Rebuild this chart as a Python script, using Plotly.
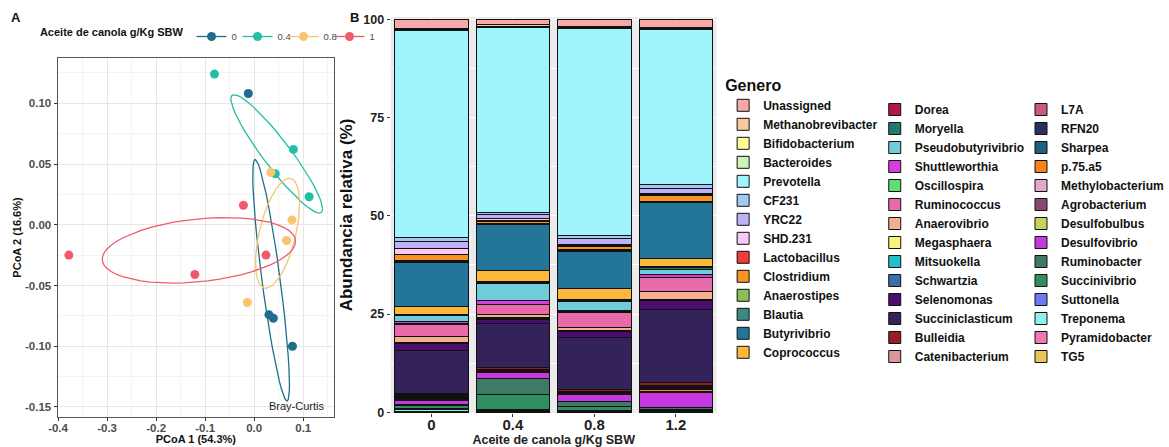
import numpy as np
import plotly.graph_objects as go

# ---------------- Panel A: PCoA (Bray-Curtis) ----------------
dose_levels = ["0", "0.4", "0.8", "1"]
dose_colors = ["#1f6e8c", "#22bfa4", "#f9c46e", "#ef5b6b"]

pc1_d0 = [-0.012, 0.030, 0.039, 0.078]
pc2_d0 = [0.108, -0.074, -0.077, -0.100]
pc1_d04 = [-0.081, 0.080, 0.043, 0.112]
pc2_d04 = [0.124, 0.062, 0.042, 0.023]
pc1_d08 = [0.034, 0.077, 0.066, -0.014]
pc2_d08 = [0.043, 0.004, -0.013, -0.064]
pc1_d1 = [-0.022, -0.378, 0.024, -0.121]
pc2_d1 = [0.016, -0.025, -0.025, -0.041]

pcoa_groups = [
    (pc1_d0, pc2_d0),
    (pc1_d04, pc2_d04),
    (pc1_d08, pc2_d08),
    (pc1_d1, pc2_d1),
]
ellipse_level = 0.5

# ---------------- Panel B: relative abundance by genus ----------------
dose_cats = ["0", "0.4", "0.8", "1.2"]

genera = [
    "Unassigned", "Methanobrevibacter", "Bifidobacterium", "Bacteroides",
    "Prevotella", "CF231", "YRC22", "SHD.231", "Lactobacillus", "Clostridium",
    "Anaerostipes", "Blautia", "Butyrivibrio", "Coprococcus",
    "Dorea", "Moryella", "Pseudobutyrivibrio", "Shuttleworthia", "Oscillospira",
    "Ruminococcus", "Anaerovibrio", "Megasphaera", "Mitsuokella", "Schwartzia",
    "Selenomonas", "Succiniclasticum", "Bulleidia", "Catenibacterium",
    "L7A", "RFN20", "Sharpea", "p.75.a5", "Methylobacterium", "Agrobacterium",
    "Desulfobulbus", "Desulfovibrio", "Ruminobacter", "Succinivibrio",
    "Suttonella", "Treponema", "Pyramidobacter", "TG5",
]

genus_colors = [
    "#f7a8a8", "#f9cb9c", "#ffff99", "#ccf5b5", "#9ff5fb", "#a3c8f5", "#c0b0f5",
    "#f8c9f8", "#f03c3c", "#f7931e", "#8cbf5a", "#3d8a80", "#23769a", "#fbb83a",
    "#b0174f", "#207a70", "#6fccd8", "#d43ee0", "#5bdf6e", "#e96aa8", "#f2b090",
    "#f5f57a", "#20bfca", "#3a6fa8", "#4a0f6e", "#33235a", "#9a1a25", "#d9979c",
    "#c85a80", "#2a2f5e", "#1f5f80", "#f5821f", "#e5a8c8", "#8a4a70", "#c5d35a",
    "#c43ae0", "#3f7a68", "#2f8f62", "#6f78f0", "#8ff0ee", "#ef7ab0", "#e8c45a",
]

# relative abundance (%) per genus, in the order of `genera`
abund_0 = [
    2.4, 0.2, 0.1, 0.1, 52.8, 0.9, 1.9, 1.4, 0.1, 1.4,
    0.2, 0.3, 11.2, 2.1, 0.15, 0.2, 1.3, 0.5, 0.3,
    3.2, 1.4, 0.1, 0.1, 0.1, 1.7, 11.0, 0.4, 0.2,
    0.2, 0.2, 0.2, 0.2, 0.1, 0.1, 0.1, 1.1, 0.3, 0.8,
    0.1, 0.6, 0.1, 0.1,
]
abund_04 = [
    1.4, 0.3, 0.1, 0.2, 47.1, 0.6, 1.1, 0.3, 0.3, 0.5,
    0.2, 0.2, 11.7, 2.8, 0.2, 0.2, 4.3, 1.0, 0.1,
    2.5, 0.9, 0.1, 0.1, 0.1, 1.1, 11.3, 0.3, 0.1,
    0.1, 0.1, 0.1, 0.2, 0.1, 0.05, 0.05, 1.7, 3.9, 4.0,
    0.1, 0.3, 0.1, 0.1,
]
abund_08 = [
    1.7, 0.2, 0.1, 0.2, 52.7, 0.8, 1.6, 0.2, 0.4, 0.8,
    0.2, 0.2, 9.3, 3.0, 0.15, 0.15, 2.4, 0.3, 0.1,
    3.9, 0.9, 0.1, 0.05, 0.05, 1.6, 13.1, 0.4, 0.1,
    0.1, 0.2, 0.2, 0.2, 0.05, 0.05, 0.1, 1.7, 1.3, 1.0,
    0.1, 0.2, 0.05, 0.05,
]
abund_12 = [
    2.0, 0.2, 0.1, 0.2, 39.5, 1.1, 1.3, 0.2, 0.3, 1.4,
    0.2, 0.2, 14.2, 2.0, 0.3, 0.4, 1.3, 0.8, 0.1,
    3.4, 2.1, 0.1, 0.1, 0.1, 2.3, 18.6, 0.8, 0.2,
    0.2, 0.2, 0.2, 0.5, 0.1, 0.1, 0.1, 4.0, 0.3, 0.3,
    0.1, 0.2, 0.1, 0.1,
]

FONT = "Liberation Sans, Arial, Helvetica, sans-serif"
W, H = 1169, 447


def px_x(p):
    return p / W


def px_y(p):
    return 1 - p / H


def cov_trob(points, nu=5, maxit=25, tol=0.01):
    """Multivariate-t robust covariance (as MASS::cov.trob)."""
    x = np.asarray(points, dtype=float)
    n, p = x.shape
    wt = np.ones(n)
    loc = x.mean(axis=0)
    w = np.sqrt(wt)
    X = x - loc
    for _ in range(maxit):
        w0 = w
        X = x - loc
        _, d, vt = np.linalg.svd(np.sqrt(w / w.sum())[:, None] * X, full_matrices=False)
        wX = X @ vt.T @ np.diag(1.0 / d)
        Q = (wX ** 2).sum(axis=1)
        w = (wt * (nu + p)) / (nu + Q)
        loc = (w[:, None] * x).sum(axis=0) / w.sum()
        if np.all(np.abs(w - w0) < tol):
            break
    cov = (np.sqrt(w)[:, None] * X).T @ (np.sqrt(w)[:, None] * X) / wt.sum()
    return loc, cov


def t_ellipse(xs, ys, level, segments=51):
    dfd = len(xs) - 1
    # F(2, dfd) quantile in closed form
    qf = dfd / 2.0 * ((1 - level) ** (-2.0 / dfd) - 1)
    center, shape = cov_trob(np.column_stack([xs, ys]))
    chol_upper = np.linalg.cholesky(shape).T
    radius = np.sqrt(2 * qf)
    ang = np.arange(segments + 1) * 2 * np.pi / segments
    circle = np.column_stack([np.cos(ang), np.sin(ang)])
    ell = center + radius * circle @ chol_upper
    return ell[:, 0], ell[:, 1]


fig = go.Figure()

for (xs, ys), lvl, col in zip(pcoa_groups, dose_levels, dose_colors):
    ex, ey = t_ellipse(xs, ys, ellipse_level)
    fig.add_trace(go.Scatter(
        x=ex, y=ey, mode="lines", line=dict(color=col, width=1.3),
        showlegend=False, hoverinfo="skip", legendgroup=lvl,
        xaxis="x", yaxis="y",
    ))
for (xs, ys), lvl, col in zip(pcoa_groups, dose_levels, dose_colors):
    # isolate each point with a gap so the legend key shows line + dot
    gx, gy = [], []
    for a, b in zip(xs, ys):
        gx += [a, None]
        gy += [b, None]
    fig.add_trace(go.Scatter(
        x=gx, y=gy, mode="lines+markers", name=lvl, legendgroup=lvl,
        line=dict(color=col, width=1.3), marker=dict(color=col, size=9),
        xaxis="x", yaxis="y", legend="legend",
    ))

# stacked bars: bottom genus first
abund_by_dose = [abund_0, abund_04, abund_08, abund_12]
for i in reversed(range(len(genera))):
    col_idx = i // 14
    fig.add_trace(go.Bar(
        x=dose_cats,
        y=[a[i] for a in abund_by_dose],
        name=genera[i],
        marker=dict(color=genus_colors[i], line=dict(color="#111111", width=1)),
        width=0.9,
        xaxis="x2", yaxis="y2",
        legend=["legend2", "legend3", "legend4"][col_idx],
        legendrank=i + 1,
    ))

tick_font_a = dict(family=FONT, size=11.5, color="#4d4d4d", weight="bold")

fig.update_layout(
    width=W, height=H,
    margin=dict(l=0, r=0, t=0, b=0),
    paper_bgcolor="white",
    plot_bgcolor="white",
    barmode="stack",
    bargap=0.1,
    font=dict(family=FONT, color="#222222"),
    xaxis=dict(
        domain=[px_x(57.7), px_x(335)],
        range=[-0.401, 0.163],
        tickvals=[-0.4, -0.3, -0.2, -0.1, 0.0, 0.1],
        ticktext=["-0.4", "-0.3", "-0.2", "-0.1", "0.0", "0.1"],
        tickfont=tick_font_a,
        ticks="outside", ticklen=3, tickcolor="#333333",
        ticklabelstandoff=-3,
        showgrid=True, gridcolor="#e6e6e6", gridwidth=1,
        minor=dict(tickvals=[-0.35, -0.25, -0.15, -0.05, 0.05, 0.15],
                   showgrid=True, gridcolor="#f3f3f3", gridwidth=0.6),
        showline=True, linecolor="#555555", linewidth=1, mirror=True,
        zeroline=False, anchor="y",
        title=dict(text="PCoA 1 (54.3%)", standoff=0,
                   font=dict(family=FONT, size=11, color="#111111", weight="bold")),
        automargin=False,
    ),
    yaxis=dict(
        domain=[px_y(416.7), px_y(58.3)],
        range=[-0.158, 0.137],
        tickvals=[-0.15, -0.10, -0.05, 0.0, 0.05, 0.10],
        ticktext=["-0.15", "-0.10", "-0.05", "0.00", "0.05", "0.10"],
        tickfont=tick_font_a,
        ticks="outside", ticklen=3, tickcolor="#333333",
        showgrid=True, gridcolor="#e6e6e6", gridwidth=1,
        minor=dict(tickvals=[-0.125, -0.075, -0.025, 0.025, 0.075, 0.125],
                   showgrid=True, gridcolor="#f3f3f3", gridwidth=0.6),
        showline=True, linecolor="#555555", linewidth=1, mirror=True,
        zeroline=False, anchor="x",
        title=dict(text="PCoA 2 (16.6%)", standoff=1,
                   font=dict(family=FONT, size=11, color="#111111", weight="bold")),
        automargin=False,
    ),
    xaxis2=dict(
        domain=[px_x(391.7), px_x(718.5)],
        type="category",
        categoryorder="array", categoryarray=dose_cats,
        tickfont=dict(family=FONT, size=15, color="#222222", weight="bold"),
        ticks="outside", ticklen=3, tickcolor="#333333",
        ticklabelstandoff=-5,
        showgrid=True, gridcolor="white", gridwidth=1,
        showline=False, zeroline=False, anchor="y2",
        title=dict(text="Aceite de canola g/Kg SBW", standoff=0,
                   font=dict(family=FONT, size=12.5, color="#222222", weight="bold")),
        automargin=False,
    ),
    yaxis2=dict(
        domain=[px_y(413), px_y(17)],
        range=[-0.2, 100.6],
        tickvals=[0, 25, 50, 75, 100],
        tickfont=dict(family=FONT, size=12.5, color="#222222", weight="bold"),
        ticks="outside", ticklen=3, tickcolor="#333333",
        showgrid=True, gridcolor="white", gridwidth=1.2,
        minor=dict(tickvals=[12.5, 37.5, 62.5, 87.5], showgrid=True,
                   gridcolor="white", gridwidth=0.6),
        showline=False, zeroline=False, anchor="x2",
        title=dict(text="Abundancia relativa (%)", standoff=6,
                   font=dict(family=FONT, size=17, color="#111111", weight="bold")),
        automargin=False,
    ),
    shapes=[dict(
        type="rect", xref="x2 domain", yref="y2 domain",
        x0=0, x1=1, y0=0, y1=1, fillcolor="#ebebeb",
        line=dict(width=0), layer="below",
    )],
    legend=dict(
        orientation="h", x=px_x(38), y=px_y(22), xanchor="left", yanchor="top",
        title=dict(text="Aceite de canola g/Kg SBW", side="left",
                   font=dict(family=FONT, size=11, color="#111111", weight="bold")),
        font=dict(family=FONT, size=9.5, color="#4d4d4d"),
        bgcolor="rgba(0,0,0,0)", itemwidth=30, traceorder="normal",
        entrywidth=1,
    ),
    legend2=dict(
        x=px_x(725), y=px_y(70), xanchor="left", yanchor="top",
        title=dict(text="Genero",
                   font=dict(family=FONT, size=16, color="#111111", weight="bold")),
        font=dict(family=FONT, size=12, color="#111111", weight="bold"),
        bgcolor="rgba(0,0,0,0)", traceorder="normal",
    ),
    legend3=dict(
        x=px_x(877), y=px_y(95), xanchor="left", yanchor="top",
        font=dict(family=FONT, size=12, color="#111111", weight="bold"),
        bgcolor="rgba(0,0,0,0)", traceorder="normal",
    ),
    legend4=dict(
        x=px_x(1024), y=px_y(95), xanchor="left", yanchor="top",
        font=dict(family=FONT, size=12, color="#111111", weight="bold"),
        bgcolor="rgba(0,0,0,0)", traceorder="normal",
    ),
    annotations=[
        dict(text="A", x=px_x(16), y=px_y(18), xref="paper", yref="paper",
             xanchor="center", yanchor="middle", showarrow=False,
             font=dict(family=FONT, size=13, color="#111111", weight="bold")),
        dict(text="B", x=px_x(355), y=px_y(18), xref="paper", yref="paper",
             xanchor="center", yanchor="middle", showarrow=False,
             font=dict(family=FONT, size=13, color="#111111", weight="bold")),
        dict(text="Bray-Curtis", x=0.088, y=-0.149, xref="x", yref="y",
             showarrow=False, font=dict(family=FONT, size=11, color="#222222")),
    ],
)

fig.write_html("out.html")
